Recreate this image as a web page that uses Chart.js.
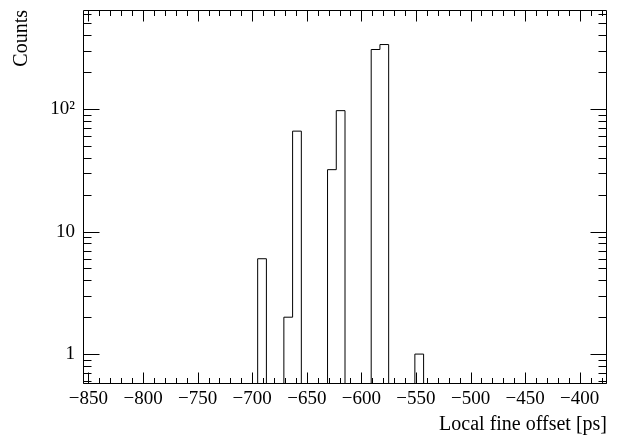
<!DOCTYPE html>
<html><head><meta charset="utf-8">
<script src="https://cdn.jsdelivr.net/npm/chart.js@4"></script>
<style>html,body{margin:0;padding:0;background:#fff}canvas{display:block}</style>
</head><body>
<canvas id="c" width="623" height="441"></canvas>
<script>
// ---- data ----
const xMin = -855, xMax = -375, binWidth = 8;
const yMin = 0.57, yMax = 643;
const binLowEdges = [-695, -671, -663, -631, -623, -591, -583, -551];
const binCounts   = [6, 2, 66, 32, 97, 306, 336, 1];
const xTickValues = [-850, -800, -750, -700, -650, -600, -550, -500, -450, -400];
const xMinorStep = 10;
const yTickValues = [1, 10, 100];
const yTickLabels = ['1', '10', '10\u00B2'];
const yMinorValues = [0.6, 0.7, 0.8, 0.9, 2, 3, 4, 5, 6, 7, 8, 9, 20, 30, 40, 50, 60, 70, 80, 90, 200, 300, 400, 500, 600];
const xTitle = 'Local fine offset [ps]';
const yTitle = 'Counts';

// ---- build histogram outline from bins ----
const nBins = Math.round((xMax - xMin) / binWidth);
const counts = new Array(nBins).fill(0);
binLowEdges.forEach((e, i) => { counts[Math.round((e - xMin) / binWidth)] = binCounts[i]; });
const pts = [];
for (let k = 0; k < nBins; k++) pts.push({x: xMin + k * binWidth, y: counts[k] > 0 ? counts[k] : yMin});
pts.push({x: xMax, y: yMin});

const FONT = 'Liberation Serif';

const frameTicks = {
  id: 'frameTicks',
  afterDraw(chart) {
    const {ctx, chartArea: a, scales: {x, y}} = chart;
    const L = Math.round(a.left) + 0.5, R = Math.round(a.right) - 0.5;
    const T = Math.round(a.top) + 0.5, B = Math.round(a.bottom) - 0.5;
    ctx.save();
    ctx.strokeStyle = '#000';
    ctx.lineWidth = 1;
    ctx.beginPath();
    ctx.rect(L, T, R - L, B - T);
    const xMaj = 11, xMin_ = 5.5, yMaj = 16, yMin_ = 8;
    const start = Math.ceil(xMin / xMinorStep) * xMinorStep;
    for (let v = start; v <= xMax; v += xMinorStep) {
      const len = xTickValues.includes(v) ? xMaj : xMin_;
      const px = Math.round(x.getPixelForValue(v)) + 0.5;
      ctx.moveTo(px, B); ctx.lineTo(px, B - len);
      ctx.moveTo(px, T); ctx.lineTo(px, T + len);
    }
    const yt = yTickValues.map(v => [v, yMaj]).concat(yMinorValues.map(v => [v, yMin_]));
    yt.forEach(([v, len]) => {
      const py = Math.round(y.getPixelForValue(v)) + 0.5;
      ctx.moveTo(L, py); ctx.lineTo(L + len, py);
      ctx.moveTo(R, py); ctx.lineTo(R - len, py);
    });
    ctx.stroke();
    ctx.restore();
  }
};

new Chart(document.getElementById('c'), {
  type: 'line',
  data: {
    datasets: [{
      data: pts,
      stepped: true,
      borderColor: '#000',
      borderWidth: 1,
      pointRadius: 0,
      fill: false,
      tension: 0
    }]
  },
  options: {
    responsive: false,
    animation: false,
    devicePixelRatio: 1,
    layout: {padding: {top: 10, right: 16, left: 0, bottom: 0}},
    plugins: {legend: {display: false}, tooltip: {enabled: false}},
    scales: {
      x: {
        type: 'linear', min: xMin, max: xMax,
        afterBuildTicks: s => { s.ticks = xTickValues.map(v => ({value: v})); },
        afterFit: s => { s.height = 57; s.paddingLeft = 0; s.paddingRight = 0; },
        grid: {display: false, drawTicks: false},
        border: {display: false},
        ticks: {
          callback: v => (v < 0 ? '\u2212' : '') + Math.abs(v),
          font: {family: FONT, size: 19}, color: '#000', padding: 4,
          maxRotation: 0, autoSkip: false
        },
        title: {display: true, text: xTitle, align: 'end', color: '#000',
          font: {family: FONT, size: 20}, padding: {top: 0, bottom: 4}}
      },
      y: {
        type: 'logarithmic', min: yMin, max: yMax,
        afterBuildTicks: s => { s.ticks = yTickValues.map(v => ({value: v})); },
        afterFit: s => { s.width = 83; s.paddingTop = 0; s.paddingBottom = 0; },
        grid: {display: false, drawTicks: false},
        border: {display: false},
        ticks: {
          callback: v => { const i = yTickValues.indexOf(v); return i >= 0 ? yTickLabels[i] : ''; },
          font: {family: FONT, size: 19}, color: '#000', padding: 8, autoSkip: false
        },
        title: {display: true, text: yTitle, align: 'end', color: '#000',
          font: {family: FONT, size: 20}, padding: {top: 10, bottom: 0}}
      }
    }
  },
  plugins: [frameTicks]
});
</script>
</body></html>
